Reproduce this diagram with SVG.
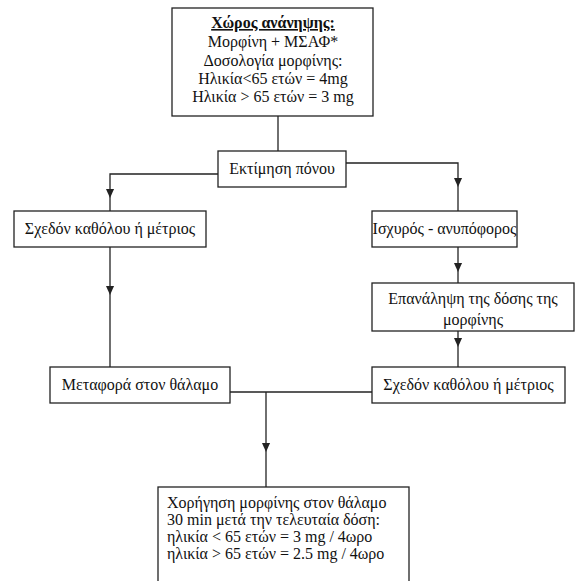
<svg xmlns="http://www.w3.org/2000/svg" width="575" height="581" viewBox="0 0 575 581">
<style>
.box{fill:#fff;stroke:#222;stroke-width:1.3}
.ln{fill:none;stroke:#222;stroke-width:1.3}
text{font-family:"Liberation Serif","Times New Roman",serif;font-size:16px;fill:#111}
.c{text-anchor:middle}
.b{font-weight:bold;text-decoration:underline}
</style>
<defs>
<marker id="arr" viewBox="0 0 10 10" refX="10" refY="5" markerWidth="9" markerHeight="9" markerUnits="userSpaceOnUse" orient="auto">
<path d="M0,0.5 L10,5 L0,9.5 z" fill="#222"/>
</marker>
</defs>
<rect width="575" height="581" fill="#fff"/>
<g id="connectors">
<path class="ln" d="M278,116 V151"/>
<path class="ln" d="M218,174 H110 V198" marker-end="url(#arr)"/>
<path class="ln" d="M110,198 V211"/>
<path class="ln" d="M346,163 H458 V187" marker-end="url(#arr)"/>
<path class="ln" d="M458,187 V211"/>
<path class="ln" d="M110,247 V295" marker-end="url(#arr)"/>
<path class="ln" d="M110,295 V367"/>
<path class="ln" d="M458,247 V272" marker-end="url(#arr)"/>
<path class="ln" d="M458,272 V283"/>
<path class="ln" d="M458,331 V347" marker-end="url(#arr)"/>
<path class="ln" d="M458,347 V367"/>
<path class="ln" d="M230,392 H372"/>
<path class="ln" d="M266,392 V452" marker-end="url(#arr)"/>
<path class="ln" d="M266,452 V487"/>
</g>
<g id="recovery">
<rect class="box" x="172" y="8" width="201" height="108"/>
<text class="c b" x="273" y="28">Χώρος ανάνηψης:</text>
<text class="c" x="273" y="47">Μορφίνη + ΜΣΑΦ*</text>
<text class="c" x="273" y="66">Δοσολογία μορφίνης:</text>
<text class="c" x="273" y="84">Ηλικία&lt;65 ετών = 4mg</text>
<text class="c" x="273" y="102">Ηλικία &gt; 65 ετών = 3 mg</text>
</g>
<g id="pain">
<rect class="box" x="218" y="151" width="128" height="36"/>
<text class="c" x="282" y="174">Εκτίμηση πόνου</text>
</g>
<g id="mild-left">
<rect class="box" x="14" y="211" width="192" height="36"/>
<text class="c" x="110" y="234">Σχεδόν καθόλου ή μέτριος</text>
</g>
<g id="transfer">
<rect class="box" x="50" y="367" width="180" height="36"/>
<text class="c" x="140" y="390">Μεταφορά στον θάλαμο</text>
</g>
<g id="severe">
<rect class="box" x="372" y="211" width="145" height="36"/>
<text class="c" x="444.5" y="234">Ισχυρός - ανυπόφορος</text>
</g>
<g id="repeat">
<rect class="box" x="372" y="283" width="202" height="48"/>
<text class="c" x="473" y="304">Επανάληψη της δόσης της</text>
<text class="c" x="473" y="325">μορφίνης</text>
</g>
<g id="mild-right">
<rect class="box" x="372" y="367" width="193" height="36"/>
<text class="c" x="468.5" y="390">Σχεδόν καθόλου ή μέτριος</text>
</g>
<g id="ward">
<rect class="box" x="158" y="487" width="251" height="110"/>
<text x="167" y="508">Χορήγηση μορφίνης στον θάλαμο</text>
<text x="167" y="525">30 min μετά την τελευταία δόση:</text>
<text x="167" y="542">ηλικία &lt; 65 ετών = 3 mg / 4ωρο</text>
<text x="167" y="559">ηλικία &gt; 65 ετών = 2.5 mg / 4ωρο</text>
</g>
</svg>
